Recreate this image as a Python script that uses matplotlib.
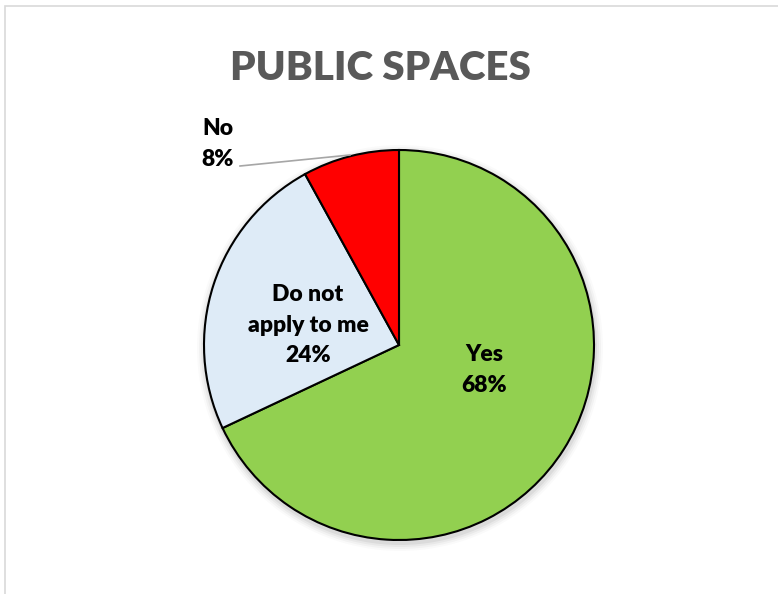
import matplotlib.pyplot as plt
from matplotlib.patches import Rectangle

# data
labels = ['Yes', 'Do not\napply to me', 'No']
values = [68, 24, 8]
colors = ['#92D050', '#DEEBF7', '#FF0000']
title = 'PUBLIC SPACES'

plt.rcParams['font.family'] = ['Lato', 'DejaVu Sans']

W, H = 778, 594
fig = plt.figure(figsize=(W / 100, H / 100), dpi=100)
ax = fig.add_axes([0, 0, 1, 1])

cx, cy, r = 399, H - 345, 195

# soft shadow under the pie
for i, a in enumerate([0.05, 0.04, 0.03, 0.02]):
    ax.add_patch(plt.Circle((cx + 1, cy - 3), r + 2 + i * 2, color='black', alpha=a, lw=0, zorder=0))

wedges, _ = ax.pie(values, colors=colors, startangle=90, counterclock=False,
                   center=(cx, cy), radius=r, frame=True,
                   wedgeprops=dict(edgecolor='black', linewidth=1.5))
ax.set_xlim(0, W)
ax.set_ylim(0, H)
ax.set_aspect('equal')
ax.axis('off')

# chart frame
ax.add_patch(Rectangle((5.5, -20), W + 20, H - 5.5 + 20, fill=False,
                       edgecolor='#D9D9D9', lw=1.2, zorder=5))

ax.text(380, H - 68, title, ha='center', va='center', fontsize=29,
        fontweight='heavy', color='#595959')

txt = dict(ha='center', va='center', fontsize=16.5, fontweight='heavy',
           color='black', linespacing=1.55)
ax.text(484, H - 370, f'{labels[0]}\n{values[0]}%', **txt)
ax.text(308, H - 325, f'{labels[1]}\n{values[1]}%', **txt)
ax.text(218, H - 144, f'{labels[2]}\n{values[2]}%', **txt)

# leader line for small slice
ax.plot([240, 350], [H - 166, H - 155], color='#A6A6A6', lw=1.2)

fig.savefig('out.png', dpi=100)
